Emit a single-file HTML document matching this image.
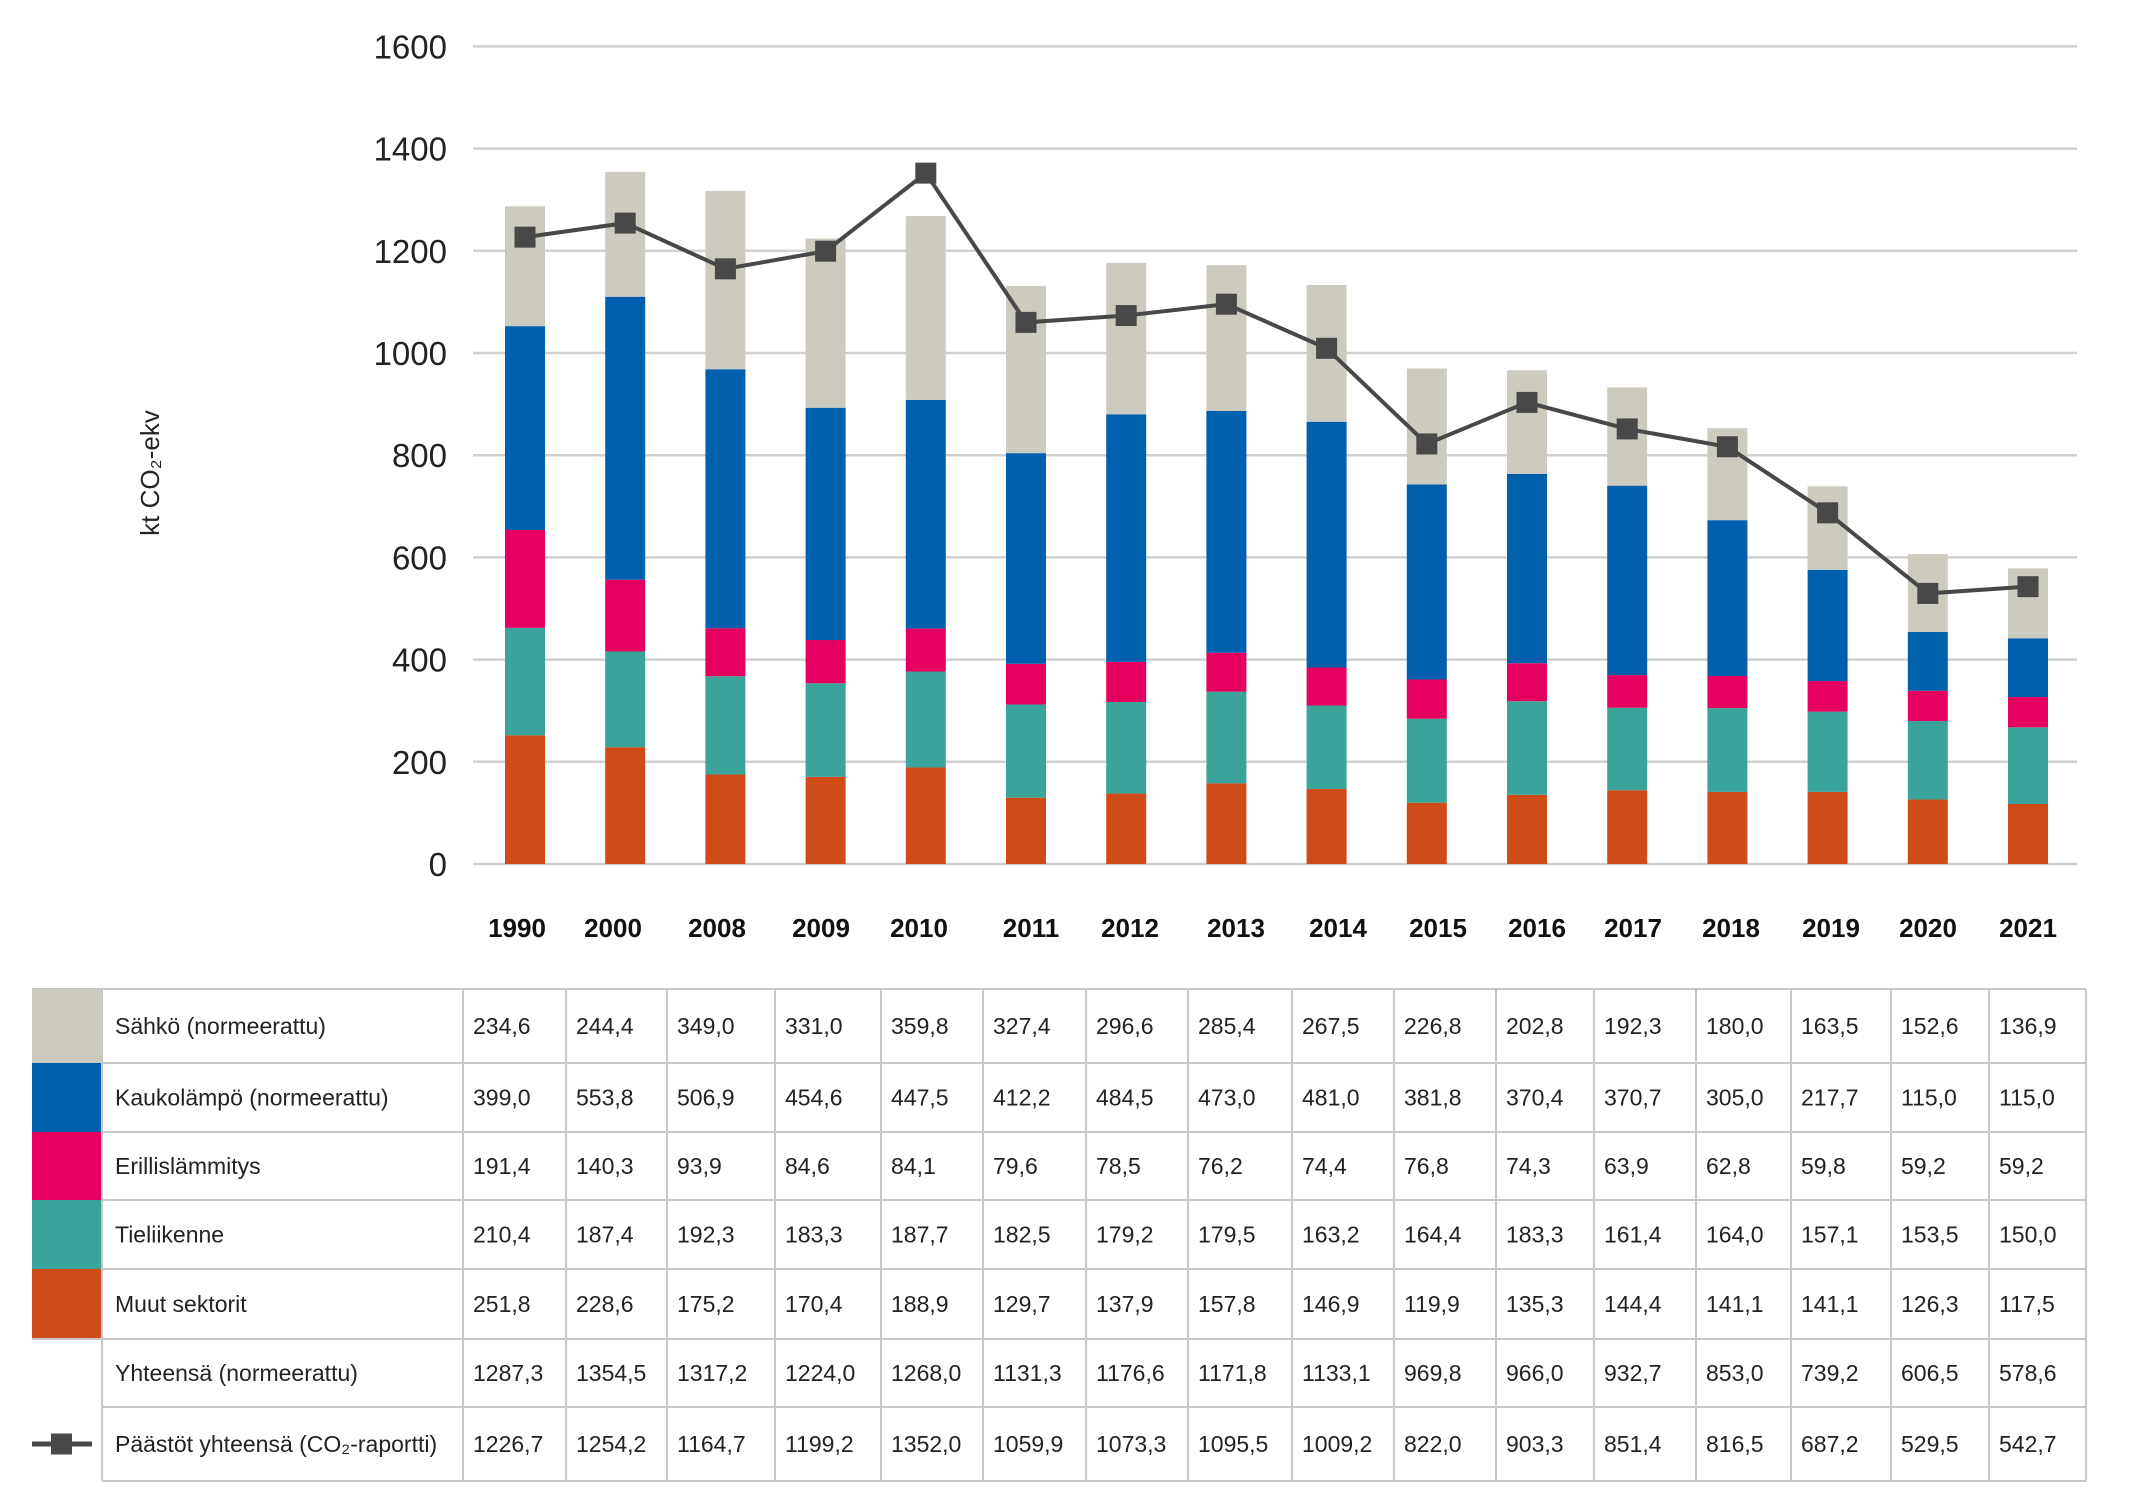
<!DOCTYPE html>
<html><head><meta charset="utf-8"><style>
html,body{margin:0;padding:0;background:#fff;}
svg{display:block;font-family:"Liberation Sans",sans-serif;}
</style></head><body>
<svg id="chart" width="2133" height="1505" viewBox="0 0 2133 1505" xmlns="http://www.w3.org/2000/svg">
<g id="grid"></g>
<g id="yticks"></g>
<text x="0" y="0" transform="translate(159,473) rotate(-90)" text-anchor="middle" font-size="26" fill="#222">kt CO₂-ekv</text>
<g id="bars"></g>
<g id="line"></g>
<g id="xlabels"></g>
<g id="table"></g>
</svg>
<script>
const years = ["1990","2000","2008","2009","2010","2011","2012","2013","2014","2015","2016","2017","2018","2019","2020","2021"];
const sahko = [234.6,244.4,349.0,331.0,359.8,327.4,296.6,285.4,267.5,226.8,202.8,192.3,180.0,163.5,152.6,136.9];
const kauko = [399.0,553.8,506.9,454.6,447.5,412.2,484.5,473.0,481.0,381.8,370.4,370.7,305.0,217.7,115.0,115.0];
const erillis = [191.4,140.3,93.9,84.6,84.1,79.6,78.5,76.2,74.4,76.8,74.3,63.9,62.8,59.8,59.2,59.2];
const tie = [210.4,187.4,192.3,183.3,187.7,182.5,179.2,179.5,163.2,164.4,183.3,161.4,164.0,157.1,153.5,150.0];
const muut = [251.8,228.6,175.2,170.4,188.9,129.7,137.9,157.8,146.9,119.9,135.3,144.4,141.1,141.1,126.3,117.5];
const yhteensa = [1287.3,1354.5,1317.2,1224.0,1268.0,1131.3,1176.6,1171.8,1133.1,969.8,966.0,932.7,853.0,739.2,606.5,578.6];
const paastot = [1226.7,1254.2,1164.7,1199.2,1352.0,1059.9,1073.3,1095.5,1009.2,822.0,903.3,851.4,816.5,687.2,529.5,542.7];
const yTicks = [0,200,400,600,800,1000,1200,1400,1600];

const NS="http://www.w3.org/2000/svg";
function mk(tag,attrs,parent){const e=document.createElementNS(NS,tag);for(const k in attrs)e.setAttribute(k,attrs[k]);parent.appendChild(e);return e;}
const y0=864, pxPer=102.2/200;
const Y=v=>y0-v*pxPer;
const X=i=>525+i*100.2;
const bw=40;

const grid=document.getElementById('grid'), yt=document.getElementById('yticks');
yTicks.forEach(t=>{
  const l=mk('line',{x1:473,x2:2077,y1:Y(t),y2:Y(t),stroke:'#d0d0d0','stroke-width':2.5},grid);
  
  
  const tx=mk('text',{x:447,y:Y(t)+12,'text-anchor':'end','font-size':33,fill:'#222'},yt);
  tx.textContent=t;
  
  
});

const series=[
  {name:'muut',vals:muut,color:'#cf4b17'},
  {name:'tieliikenne',vals:tie,color:'#3aa39a'},
  {name:'erillislammitys',vals:erillis,color:'#e5005f'},
  {name:'kaukolampo',vals:kauko,color:'#0060ae'},
  {name:'sahko',vals:sahko,color:'#cdcbbf'}];
const bars=document.getElementById('bars');
years.forEach((yr,i)=>{
  let acc=0;
  series.forEach(s=>{
    const v=s.vals[i];
    const r=mk('rect',{x:X(i)-bw/2,y:Y(acc+v),width:bw,height:v*pxPer,fill:s.color},bars);
    
    
    acc+=v;
  });
});

const lg=document.getElementById('line');
const pts=paastot.map((v,i)=>X(i)+','+Y(v)).join(' ');
const pl=mk('polyline',{points:pts,fill:'none',stroke:'#484848','stroke-width':4},lg);


paastot.forEach((v,i)=>{
  const m=mk('rect',{x:X(i)-10.5,y:Y(v)-10.5,width:21,height:21,fill:'#484848'},lg);
  
  
});

const labelX=[517,613,717,821,919,1031,1130,1236,1338,1438,1537,1633,1731,1831,1928,2028];
const xl=document.getElementById('xlabels');
years.forEach((yr,i)=>{
  const t=mk('text',{x:labelX[i],y:937,'text-anchor':'middle','font-size':26,'font-weight':'bold',fill:'#111'},xl);
  t.textContent=yr;
  
  
});

// table
const tb=document.getElementById('table');
const colB=[463,566,667,775,881,983,1086,1188,1292,1394,1496,1594,1696,1791,1891,1989,2086];
const rowB=[989,1063,1132,1200,1269,1339,1407,1481];
const rows=[
  {label:'Sähkö (normeerattu)',vals:sahko,color:'#cdcbbf',key:'sahko'},
  {label:'Kaukolämpö (normeerattu)',vals:kauko,color:'#0060ae',key:'kaukolampo'},
  {label:'Erillislämmitys',vals:erillis,color:'#e5005f',key:'erillislammitys'},
  {label:'Tieliikenne',vals:tie,color:'#3aa39a',key:'tieliikenne'},
  {label:'Muut sektorit',vals:muut,color:'#cf4b17',key:'muut'},
  {label:'Yhteensä (normeerattu)',vals:yhteensa,color:null,key:'yhteensa'},
  {label:'Päästöt yhteensä (CO₂-raportti)',vals:paastot,color:null,key:'paastot'}];
const fmt=v=>v.toFixed(1).replace('.',',');
rows.forEach((r,ri)=>{
  const top=rowB[ri], bot=rowB[ri+1], cy=(top+bot)/2;
  if(r.color){
    const s=mk('rect',{x:32,y:top,width:70,height:bot-top,fill:r.color},tb);
    
    
  }
  const lt=mk('text',{x:115,y:cy+8,'font-size':23,fill:'#222'},tb);
  lt.textContent=r.label;
  
  
  r.vals.forEach((v,ci)=>{
    const t=mk('text',{x:colB[ci]+10,y:cy+8,'font-size':23,fill:'#222'},tb);
    t.textContent=fmt(v);
    
    
  });
});
// legend line marker
const ly=(rowB[6]+rowB[7])/2;
const ll=mk('line',{x1:32,x2:92,y1:ly,y2:ly,stroke:'#484848','stroke-width':5},tb);


const lm=mk('rect',{x:51,y:ly-10.5,width:21,height:21,fill:'#484848'},tb);


// borders
rowB.forEach((yy,i)=>{
  const x1=(i<=5)?32:102;
  const l=mk('line',{x1:(i==0||i==5)?x1:102,x2:2086,y1:yy,y2:yy,stroke:'#c8c8c8','stroke-width':2},tb);
  
  
});
const vl0=mk('line',{x1:102,x2:102,y1:989,y2:1481,stroke:'#c8c8c8','stroke-width':2},tb);


colB.forEach(xx=>{
  const l=mk('line',{x1:xx,x2:xx,y1:989,y2:1481,stroke:'#c8c8c8','stroke-width':2},tb);
  
  
});
</script>
</body></html>
